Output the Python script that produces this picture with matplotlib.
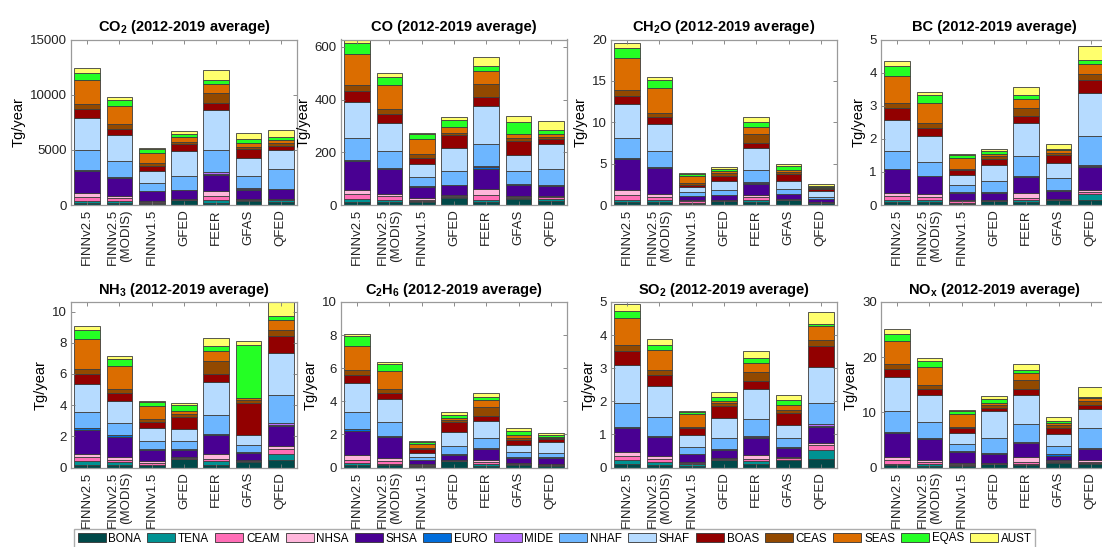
import numpy as np
import matplotlib
matplotlib.use("Agg")
import matplotlib.pyplot as plt
from matplotlib.patches import Patch

plt.rcParams['font.family'] = ['Liberation Sans', 'DejaVu Sans']
plt.rcParams['mathtext.fontset'] = 'custom'
plt.rcParams['mathtext.rm'] = 'Liberation Sans'
plt.rcParams['mathtext.bf'] = 'Liberation Sans:bold'

# inventories (x axis) and regions (stack order, bottom -> top)
inventories = ['FINNv2.5', 'FINNv2.5\n(MODIS)', 'FINNv1.5', 'GFED', 'FEER', 'GFAS', 'QFED']
regions = ['BONA', 'TENA', 'CEAM', 'NHSA', 'SHSA', 'EURO', 'MIDE',
           'NHAF', 'SHAF', 'BOAS', 'CEAS', 'SEAS', 'EQAS', 'AUST']
region_colors = ['#004949', '#009292', '#ff6db6', '#ffb6db', '#490092', '#006ddb', '#b66dff',
                 '#6db6ff', '#b6dbff', '#920000', '#924900', '#db6d00', '#24ff24', '#ffff6d']

# Tg/year, one row per inventory, one value per region
co2 = [
    [200, 200, 300, 350, 2050, 60, 20, 1820, 2850, 850, 450, 2150, 650, 450],
    [180, 160, 250, 200, 1700, 50, 10, 1460, 2310, 580, 460, 1580, 600, 250],
    [100, 80, 120, 80, 880, 20, 0, 720, 1100, 460, 210, 970, 330, 100],
    [430, 40, 50, 30, 780, 10, 0, 1300, 2280, 610, 210, 400, 270, 330],
    [220, 210, 360, 460, 1450, 150, 100, 2030, 3590, 670, 910, 850, 370, 840],
    [370, 50, 80, 50, 850, 80, 20, 1140, 1650, 810, 190, 300, 360, 550],
    [240, 190, 100, 50, 860, 30, 20, 1730, 1760, 390, 220, 300, 300, 610],
]
co = [
    [13, 10, 17, 18, 109, 5, 0, 82, 136, 43, 21, 118, 41, 15],
    [13, 7, 13, 10, 95, 2, 0, 65, 108, 34, 19, 88, 30, 15],
    [10, 5, 5, 6, 44, 2, 0, 34, 51, 23, 12, 60, 16, 5],
    [28, 3, 3, 3, 40, 0, 0, 52, 87, 49, 10, 21, 26, 12],
    [13, 7, 17, 22, 79, 5, 4, 83, 145, 35, 51, 47, 21, 33],
    [23, 4, 3, 3, 42, 3, 0, 51, 60, 53, 12, 17, 44, 22],
    [14, 10, 8, 3, 38, 2, 0, 63, 92, 21, 7, 13, 13, 34],
]
ch2o = [
    [0.36, 0.29, 0.52, 0.61, 3.72, 0.13, 0, 2.43, 4.13, 0.93, 0.73, 3.88, 1.26, 0.61],
    [0.32, 0.25, 0.40, 0.33, 3.23, 0.09, 0, 1.94, 3.24, 0.89, 0.40, 3.04, 1.01, 0.28],
    [0.15, 0.12, 0.18, 0.10, 0.48, 0.02, 0, 0.53, 0.61, 0.28, 0.20, 0.81, 0.29, 0.12],
    [0.50, 0.04, 0.03, 0.02, 0.56, 0.02, 0, 0.61, 1.09, 0.61, 0.33, 0.24, 0.36, 0.21],
    [0.32, 0.25, 0.40, 0.20, 1.42, 0.12, 0.08, 1.50, 2.55, 0.61, 1.09, 0.93, 0.61, 0.53],
    [0.55, 0.05, 0.05, 0.04, 0.61, 0.08, 0, 0.60, 0.89, 0.85, 0.25, 0.32, 0.41, 0.24],
    [0.20, 0.08, 0.05, 0.03, 0.31, 0.02, 0, 0.28, 0.73, 0.20, 0.10, 0.15, 0.20, 0.24],
]
bc = [
    [0.09, 0.07, 0.10, 0.11, 0.71, 0.02, 0, 0.52, 0.96, 0.35, 0.15, 0.82, 0.30, 0.14],
    [0.08, 0.06, 0.10, 0.08, 0.55, 0.02, 0, 0.41, 0.78, 0.26, 0.14, 0.61, 0.23, 0.10],
    [0.04, 0.03, 0.05, 0.02, 0.23, 0.01, 0, 0.21, 0.33, 0.13, 0.05, 0.32, 0.08, 0.03],
    [0.11, 0.02, 0.02, 0.01, 0.20, 0.02, 0, 0.34, 0.48, 0.19, 0.09, 0.05, 0.10, 0.05],
    [0.08, 0.06, 0.07, 0.15, 0.49, 0.02, 0.01, 0.59, 1.02, 0.19, 0.26, 0.26, 0.12, 0.23],
    [0.14, 0.02, 0.02, 0.01, 0.23, 0.04, 0, 0.36, 0.46, 0.22, 0.08, 0.08, 0.04, 0.15],
    [0.16, 0.16, 0.07, 0.07, 0.69, 0.02, 0.03, 0.88, 1.29, 0.40, 0.18, 0.32, 0.11, 0.42],
]
nh3 = [
    [0.19, 0.21, 0.26, 0.23, 1.53, 0.10, 0, 1.02, 1.80, 0.63, 0.36, 1.91, 0.57, 0.24],
    [0.19, 0.15, 0.17, 0.17, 1.27, 0.11, 0, 0.78, 1.44, 0.47, 0.31, 1.44, 0.43, 0.19],
    [0.13, 0.06, 0.12, 0.09, 0.74, 0.02, 0, 0.51, 0.89, 0.38, 0.17, 0.85, 0.21, 0.09],
    [0.52, 0.03, 0.06, 0.05, 0.48, 0.05, 0, 0.48, 0.81, 0.78, 0.15, 0.23, 0.36, 0.15],
    [0.19, 0.21, 0.17, 0.32, 1.17, 0.06, 0.04, 1.21, 2.12, 0.48, 0.83, 0.64, 0.38, 0.46],
    [0.38, 0.03, 0.05, 0.05, 0.42, 0.04, 0, 0.49, 0.64, 2.01, 0.21, 0.15, 3.41, 0.26],
    [0.45, 0.42, 0.30, 0.19, 1.33, 0.05, 0.10, 1.80, 2.71, 1.06, 0.42, 0.64, 0.25, 0.89],
]
c2h6 = [
    [0.14, 0.14, 0.16, 0.31, 1.47, 0.10, 0, 1.05, 1.76, 0.47, 0.30, 1.47, 0.55, 0.16],
    [0.14, 0.08, 0.16, 0.17, 1.27, 0.08, 0, 0.87, 1.37, 0.34, 0.27, 1.09, 0.40, 0.16],
    [0.06, 0.04, 0.06, 0.04, 0.27, 0.01, 0, 0.17, 0.20, 0.24, 0.06, 0.30, 0.11, 0.04],
    [0.37, 0.03, 0.04, 0.04, 0.27, 0.04, 0, 0.52, 0.85, 0.57, 0.14, 0.10, 0.20, 0.16],
    [0.12, 0.10, 0.12, 0.14, 0.61, 0.04, 0.02, 0.61, 1.07, 0.30, 0.55, 0.40, 0.20, 0.20],
    [0.18, 0.04, 0.04, 0.04, 0.29, 0.06, 0, 0.30, 0.40, 0.31, 0.14, 0.16, 0.24, 0.16],
    [0.12, 0.05, 0.04, 0.03, 0.35, 0.02, 0, 0.24, 0.71, 0.15, 0.08, 0.07, 0.10, 0.14],
]
so2 = [
    [0.10, 0.12, 0.13, 0.12, 0.71, 0.03, 0, 0.73, 1.16, 0.43, 0.18, 0.81, 0.22, 0.20],
    [0.09, 0.08, 0.10, 0.08, 0.58, 0.03, 0, 0.58, 0.93, 0.33, 0.15, 0.59, 0.17, 0.17],
    [0.06, 0.04, 0.04, 0.03, 0.24, 0.01, 0, 0.21, 0.35, 0.20, 0.05, 0.38, 0.06, 0.04],
    [0.22, 0.02, 0.03, 0.03, 0.23, 0.03, 0, 0.34, 0.61, 0.36, 0.07, 0.07, 0.13, 0.13],
    [0.11, 0.08, 0.08, 0.12, 0.51, 0.03, 0.02, 0.53, 0.88, 0.24, 0.28, 0.29, 0.15, 0.21],
    [0.22, 0.02, 0.04, 0.04, 0.26, 0.03, 0, 0.29, 0.38, 0.38, 0.08, 0.15, 0.15, 0.15],
    [0.27, 0.26, 0.15, 0.05, 0.50, 0.03, 0.04, 0.64, 1.11, 0.61, 0.20, 0.40, 0.07, 0.37],
]
nox = [
    [0.42, 0.19, 0.72, 0.61, 4.24, 0.18, 0, 3.94, 6.06, 1.46, 0.97, 4.06, 1.39, 0.86],
    [0.36, 0.19, 0.48, 0.42, 3.64, 0.18, 0, 3.03, 4.85, 1.09, 0.73, 3.21, 1.15, 0.49],
    [0.30, 0.12, 0.25, 0.18, 2.00, 0.12, 0, 1.27, 2.06, 0.79, 0.30, 2.31, 0.54, 0.18],
    [0.55, 0.06, 0.14, 0.10, 1.51, 0.19, 0, 2.72, 5.03, 0.55, 0.48, 0.43, 0.60, 0.61],
    [0.42, 0.19, 0.42, 0.91, 2.42, 0.12, 0.07, 3.27, 5.33, 1.03, 1.70, 1.21, 0.61, 1.09],
    [0.85, 0.15, 0.20, 0.13, 0.79, 0.24, 0, 1.52, 2.12, 1.21, 0.49, 0.30, 0.48, 0.61],
    [0.55, 0.18, 0.30, 0.30, 1.94, 0.15, 0.16, 3.51, 3.46, 0.78, 0.73, 0.49, 0.30, 1.70],
]

species = [co2, co, ch2o, bc, nh3, c2h6, so2, nox]
titles = [r'CO$_\mathbf{2}$', 'CO', r'CH$_\mathbf{2}$O', 'BC',
          r'NH$_\mathbf{3}$', r'C$_\mathbf{2}$H$_\mathbf{6}$', r'SO$_\mathbf{2}$', r'NO$_\mathbf{x}$']
ytick_sets = [[0, 5000, 10000, 15000], [0, 200, 400, 600], [0, 5, 10, 15, 20], [0, 1, 2, 3, 4, 5],
              [0, 2, 4, 6, 8, 10], [0, 2, 4, 6, 8, 10], [0, 1, 2, 3, 4, 5], [0, 10, 20, 30]]
ytops = [15000, None, 20, 5, None, 10, 5, 30]

W, H = 1102, 547
fig = plt.figure(figsize=(W / 100, H / 100), dpi=100)
lefts = [71, 341, 611, 881]
tops = [39.5, 302]
aw, ah = 226, 165.5
spine_c = '#9a9a9a'
x = np.arange(1, len(inventories) + 1)

for k, data in enumerate(species):
    r, c = divmod(k, 4)
    ax = fig.add_axes([lefts[c] / W, 1 - (tops[r] + ah) / H, aw / W, ah / H])
    vals = np.array(data, dtype=float)
    bottom = np.zeros(len(inventories))
    for j in range(len(regions)):
        ax.bar(x, vals[:, j], 0.8, bottom=bottom, color=region_colors[j],
               edgecolor='#3c3c3c', linewidth=0.6)
        bottom += vals[:, j]
    ax.set_xlim(0.5, 7.5)
    top = ytops[k] if ytops[k] is not None else bottom.max()
    ax.set_ylim(0, top)
    ax.set_yticks(ytick_sets[k])
    ax.set_xticks(x)
    ax.set_xticklabels(inventories, rotation=90, multialignment='right', fontsize=9.5)
    ax.tick_params(direction='in', top=True, right=True, length=3, width=0.6,
                   color='#777777', labelsize=9.5, labelcolor='#222222', pad=3)
    for s in ax.spines.values():
        s.set_color(spine_c)
        s.set_linewidth(0.9)
    ax.set_ylabel('Tg/year', fontsize=10.5, labelpad=3)
    ax.set_title(titles[k] + ' (2012-2019 average)', fontsize=10.5, fontweight='bold', pad=6)

handles = [Patch(facecolor=col, edgecolor='#333333', linewidth=0.6) for col in region_colors]
fig.legend(handles, regions, loc='upper left', bbox_to_anchor=(74 / W, 1 - 529 / H), ncol=14,
           fontsize=8.4, handlelength=2.4, handleheight=0.7, handletextpad=0.25,
           columnspacing=0.5, frameon=True, fancybox=False, edgecolor='#999999',
           borderpad=0.3, borderaxespad=0)

fig.savefig('out.png', dpi=100)
